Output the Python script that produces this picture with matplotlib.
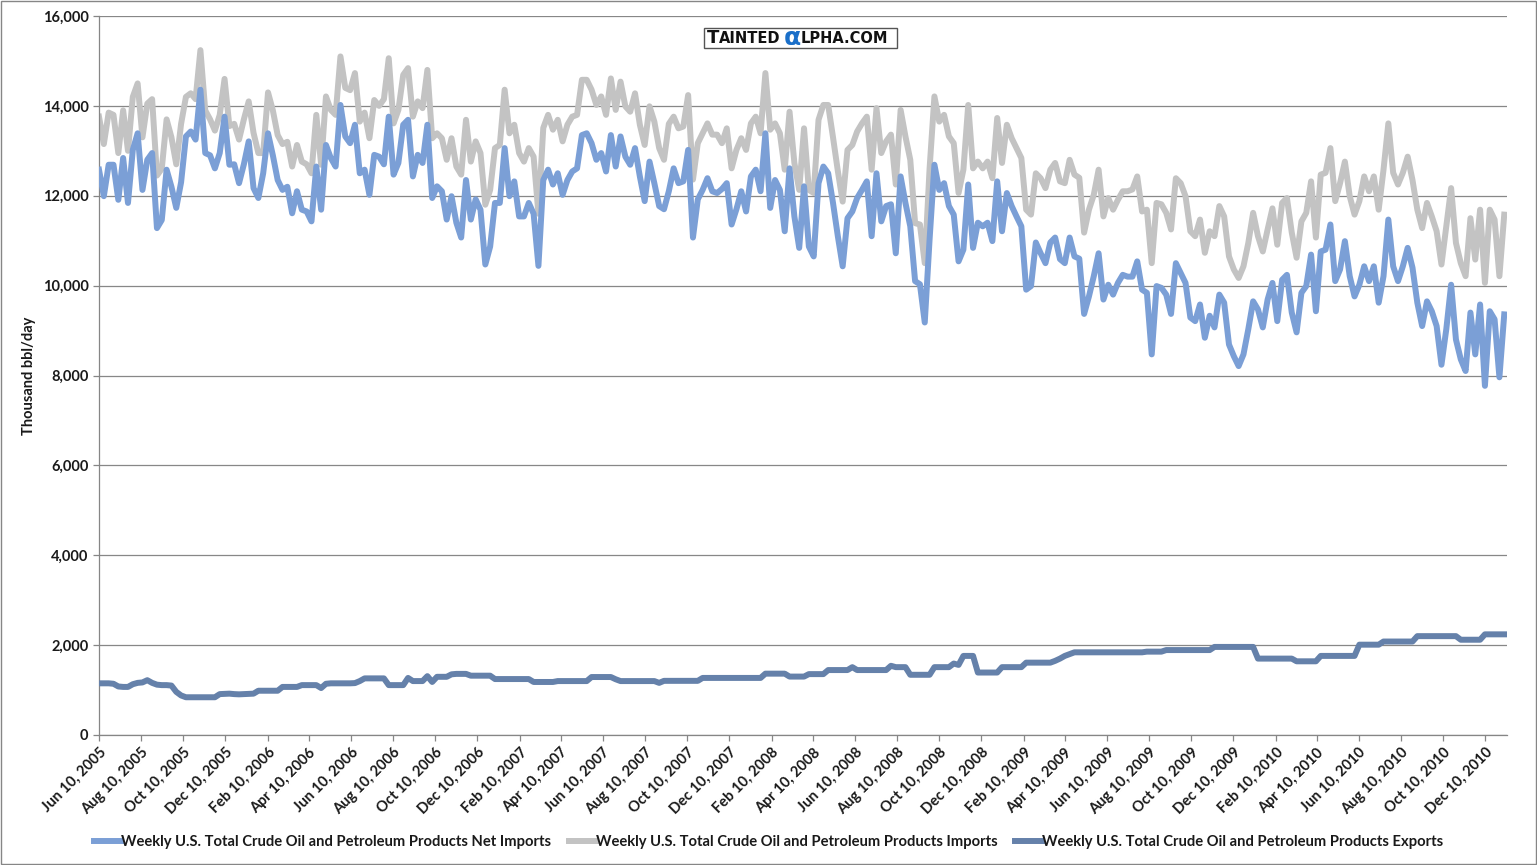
import matplotlib
matplotlib.use('Agg')
import matplotlib.pyplot as plt
from matplotlib.ticker import FuncFormatter, MultipleLocator
from matplotlib.patches import Rectangle
import pandas as pd

plt.rcParams['font.family'] = ['Lato', 'DejaVu Sans']

# weekly data, thousand bbl/day, from Jun 10, 2005
imports = [
    13760, 13150, 13850, 13800, 12950, 13900, 13000, 14200, 14500, 13300, 14050, 14150, 12450, 12600, 13700,
    13300, 12700, 13600, 14200, 14280, 14150, 15240, 13900, 13700, 13450, 13800, 14600, 13550, 13600, 13250,
    13700, 14100, 13400, 12950, 12950, 14300, 13900, 13350, 13150, 13200, 12650, 13130, 12760, 12700, 12500,
    13800, 12690, 14210, 13910, 13800, 15100, 14400, 14350, 14730, 13650, 13850, 13280, 14130, 14000,
    14150, 15060, 13610, 13910, 14690, 14840, 13760, 14100, 13950, 14800, 13280, 13390, 13280, 12800, 13280,
    12650, 12470, 13690, 12760, 13210, 12950, 11800, 12130, 13060, 13130, 14360, 13390, 13580, 12950,
    12760, 13060, 12870, 11600, 13510, 13800, 13470, 13690, 13210, 13580, 13760, 13800, 14580, 14580, 14360,
    14020, 14210, 13800, 14610, 13910, 14540, 13990, 13870, 14280, 13580, 13130, 13990, 13650, 13060,
    12800, 13600, 13760, 13500, 13540, 14240, 12360, 13170, 13390, 13610, 13360, 13360, 13170, 13500, 12610,
    13020, 13280, 13020, 13610, 13760, 13390, 14730, 13470, 13610, 13390, 12580, 13870, 12730, 12130,
    13500, 12130, 12060, 13690, 14020, 14020, 13300, 12550, 11870, 13020, 13130, 13430, 13610, 13760, 12580,
    13950, 12950, 13210, 13360, 12250, 13910, 13320, 12800, 11390, 11360, 10500, 12610, 14210, 13650,
    13800, 13320, 13170, 12060, 12580, 14020, 12610, 12760, 12610, 12760, 12390, 13730, 12730, 13580, 13280,
    13060, 12840, 11690, 11580, 12500, 12390, 12170, 12580, 12730, 12320, 12280, 12800, 12470, 12400,
    11180, 11690, 12020, 12580, 11540, 11950, 11690, 11910, 12100, 12100, 12140, 12430, 11650, 11690, 10500,
    11840, 11810, 11620, 11250, 12390, 12280, 11990, 11210, 11100, 11470, 10730, 11210, 11100, 11770,
    11540, 10650, 10360, 10170, 10430, 10950, 11620, 11100, 10760, 11250, 11720, 10910, 11840, 11950, 11180,
    10620, 11430, 11620, 12320, 11070, 12470, 12510, 13060, 11880, 12280, 12760, 11990, 11580, 11880,
    12430, 12100, 12430, 11690, 12580, 13610, 12510, 12250, 12510, 12870, 12350, 11690, 11280, 11840, 11540,
    11210, 10470, 11320, 12170, 10950, 10500, 10210, 11500, 10580, 11690, 10060, 11690, 11470, 10210, 11580,
]

net_imports = [
    12580, 11990, 12690, 12690, 11910, 12840, 11840, 13020, 13390, 12130, 12800, 12950, 11280, 11460, 12580,
    12200, 11730, 12300, 13320, 13430, 13250, 14360, 12950, 12900, 12610, 12950, 13760, 12690, 12700, 12280,
    12700, 13210, 12170, 11950, 12500, 13390, 12900, 12350, 12130, 12200, 11610, 12100, 11690, 11650, 11430,
    12650, 11690, 13130, 12840, 12650, 14020, 13320, 13170, 13580, 12500, 12580, 12020, 12910, 12870,
    12700, 13760, 12470, 12730, 13580, 13690, 12430, 12910, 12730, 13580, 11950, 12210, 12100, 11470, 11990,
    11400, 11070, 12350, 11470, 11920, 11690, 10470, 10870, 11840, 11840, 13060, 11990, 12320, 11540,
    11540, 11840, 11600, 10440, 12350, 12580, 12250, 12500, 12020, 12350, 12540, 12610, 13350, 13390, 13170,
    12800, 12950, 12540, 13350, 12650, 13320, 12870, 12690, 13060, 12430, 11880, 12760, 12280, 11770,
    11700, 12100, 12610, 12280, 12320, 13020, 11070, 11920, 12130, 12390, 12100, 12060, 12150, 12280, 11360,
    11700, 12100, 11650, 12430, 12580, 12100, 13390, 11730, 12350, 12130, 11210, 12610, 11540, 10840,
    12210, 10870, 10650, 12280, 12650, 12500, 11840, 11100, 10430, 11500, 11650, 11950, 12130, 12320, 11100,
    12500, 11430, 11770, 11810, 10720, 12430, 11840, 11320, 10100, 10030, 9180, 11030, 12690, 12130,
    12280, 11770, 11580, 10540, 10800, 12250, 10840, 11400, 11320, 11400, 10990, 12320, 11210, 12060, 11770,
    11540, 11320, 9910, 9990, 10960, 10720, 10500, 10960, 11070, 10590, 10500, 11070, 10650, 10600,
    9370, 9760, 10210, 10720, 9690, 10020, 9800, 10060, 10240, 10200, 10200, 10540, 9910, 9840, 8470,
    9990, 9950, 9800, 9370, 10500, 10280, 10060, 9290, 9210, 9580, 8840, 9330, 9070, 9800,
    9620, 8690, 8430, 8210, 8470, 9030, 9650, 9470, 9070, 9690, 10060, 9210, 10130, 10240, 9400,
    8960, 9840, 9990, 10690, 9430, 10760, 10800, 11360, 10100, 10360, 10990, 10210, 9760, 10020,
    10430, 10100, 10430, 9620, 10210, 11470, 10430, 10100, 10430, 10840, 10400, 9620, 9100, 9650, 9430,
    9100, 8240, 9030, 10020, 8800, 8360, 8100, 9400, 8470, 9580, 7770, 9430, 9250, 7960, 9360,
]

exports = [
    1150, 1150, 1150, 1140, 1080, 1070, 1070, 1130, 1160, 1170, 1220, 1160, 1120, 1110, 1110,
    1100, 960, 880, 840, 840, 840, 840, 840, 840, 840, 910, 915, 920, 910, 905,
    910, 915, 920, 985, 985, 985, 985, 985, 1070, 1070, 1070, 1070, 1110, 1110, 1110,
    1110, 1045, 1140, 1150, 1150, 1150, 1150, 1150, 1155, 1200, 1260, 1260, 1260, 1260, 1260,
    1110, 1110, 1110, 1110, 1270, 1200, 1200, 1200, 1310, 1180, 1295, 1295, 1295, 1350, 1360,
    1360, 1360, 1320, 1320, 1320, 1320, 1320, 1245, 1245, 1245, 1245, 1245, 1245, 1245, 1245,
    1180, 1180, 1180, 1180, 1180, 1200, 1200, 1200, 1200, 1200, 1200, 1200, 1290, 1290, 1290,
    1290, 1290, 1240, 1200, 1200, 1200, 1200, 1200, 1200, 1200, 1200, 1160, 1205, 1205, 1205,
    1205, 1205, 1205, 1205, 1205, 1270, 1270, 1270, 1270, 1270, 1270, 1270, 1270, 1270, 1270,
    1270, 1270, 1270, 1365, 1365, 1365, 1365, 1365, 1300, 1300, 1300, 1300,
    1355, 1355, 1355, 1355, 1445, 1445, 1445, 1445, 1445, 1510, 1445, 1445, 1445, 1445, 1445,
    1445, 1445, 1540, 1510, 1510, 1510, 1340, 1340, 1340, 1340, 1340, 1510, 1510, 1510, 1510,
    1590, 1560, 1760, 1760, 1760, 1390, 1390, 1390, 1390, 1390, 1510, 1510, 1510, 1510, 1510,
    1610, 1610, 1610, 1610, 1610, 1610, 1650, 1700, 1760, 1800, 1840, 1840, 1840, 1840, 1840,
    1840, 1840, 1840, 1840, 1840, 1840, 1840, 1840, 1840, 1840, 1855, 1855, 1855, 1855, 1890,
    1890, 1890, 1890, 1890, 1890, 1890, 1890, 1890, 1890, 1960, 1960, 1960, 1960, 1960, 1960,
    1960, 1960, 1960, 1700, 1700, 1700, 1700, 1700, 1700, 1700, 1700, 1640, 1640, 1640, 1640,
    1640, 1760, 1760, 1760, 1760, 1760, 1760, 1760, 1760, 2010, 2010, 2010, 2010, 2010, 2080,
    2080, 2080, 2080, 2080, 2080, 2080, 2200, 2200, 2200, 2200, 2200, 2200, 2200, 2200, 2200,
    2120, 2120, 2120, 2120, 2120, 2240, 2240, 2240, 2240, 2240,
]

series_names = [
    'Weekly U.S. Total Crude Oil and Petroleum Products Net Imports',
    'Weekly U.S. Total Crude Oil and Petroleum Products Imports',
    'Weekly U.S. Total Crude Oil and Petroleum Products Exports',
]

weeks = pd.date_range('2005-06-10', periods=len(imports), freq='7D')
tick_dates = pd.date_range('2005-06-01', '2010-12-01', freq='2MS') + pd.Timedelta(days=9)

fig = plt.figure(figsize=(15.37, 8.65), dpi=100)
ax = fig.add_axes([99 / 1537, 1 - 735 / 865, 1408 / 1537, 719 / 865])

l_net, = ax.plot(weeks, net_imports, color='#7B9FD6', lw=4.3, zorder=3, solid_joinstyle='round')
l_imp, = ax.plot(weeks, imports, color='#C3C3C3', lw=4.3, zorder=2, solid_joinstyle='round')
l_exp, = ax.plot(weeks, exports, color='#6581AA', lw=4.3, zorder=3, solid_joinstyle='round')

ax.set_ylim(0, 16000)
ax.yaxis.set_major_locator(MultipleLocator(2000))
ax.yaxis.set_major_formatter(FuncFormatter(lambda v, p: f'{v:,.0f}'))
ax.set_xlim(weeks[0], weeks[-1] + pd.Timedelta(days=4))
ax.set_xticks(tick_dates)
ax.set_xticklabels([d.strftime('%b %d, %Y') for d in tick_dates], rotation=45,
                   ha='right', rotation_mode='anchor')

ax.grid(axis='y', color='#878787', lw=0.9)
ax.set_axisbelow(True)
for s in ['top', 'right']:
    ax.spines[s].set_visible(False)
for s in ['left', 'bottom']:
    ax.spines[s].set_color('#868686')
    ax.spines[s].set_linewidth(0.9)
ax.tick_params(axis='both', colors='#868686', labelcolor='#1a1a1a', labelsize=10.5, length=4, width=0.9)
for lab in ax.get_xticklabels() + ax.get_yticklabels():
    lab.set_fontweight('bold')

ax.set_ylabel('Thousand bbl/day', fontsize=10.5, fontweight='bold', color='#1a1a1a')
ax.yaxis.set_label_coords(-0.045, 0.5)

# logo box
ax.add_patch(Rectangle((605 / 1408, (735 - 48) / 719), 193 / 1408, 20 / 719,
                       transform=ax.transAxes, facecolor='white', edgecolor='#555555', lw=1, zorder=5))
ty = (735 - 38) / 719
ax.text(608 / 1408, ty, 'T', transform=ax.transAxes, fontsize=13, family='DejaVu Sans',
        fontweight='bold', va='center', ha='left', zorder=6, color='#111111')
ax.text(620 / 1408, ty - 0.001, 'AINTED', transform=ax.transAxes, fontsize=10.5, family='DejaVu Sans',
        fontweight='bold', va='center', ha='left', zorder=6, color='#111111')
ax.text(685 / 1408, ty, 'α', transform=ax.transAxes, fontsize=18, family='DejaVu Sans',
        fontweight='bold', va='center', ha='left', zorder=6, color='#1A6FC9')
ax.text(702 / 1408, ty - 0.001, 'LPHA.COM', transform=ax.transAxes, fontsize=10.5, family='DejaVu Sans',
        fontweight='bold', va='center', ha='left', zorder=6, color='#111111')

leg = fig.legend([l_net, l_imp, l_exp], series_names, loc='center', bbox_to_anchor=(0.5, 1 - 842 / 865),
                 ncol=3, frameon=False, handlelength=1.85, handletextpad=0.0, columnspacing=1.2,
                 prop={'size': 10.6, 'weight': 'bold'})
for t in leg.get_texts():
    t.set_color('#1a1a1a')

fig.patches.append(Rectangle((0.0004, 0.0008), 0.9991, 0.9984, transform=fig.transFigure,
                             fill=False, edgecolor='#868686', lw=1))

fig.savefig('out.png', dpi=100)
